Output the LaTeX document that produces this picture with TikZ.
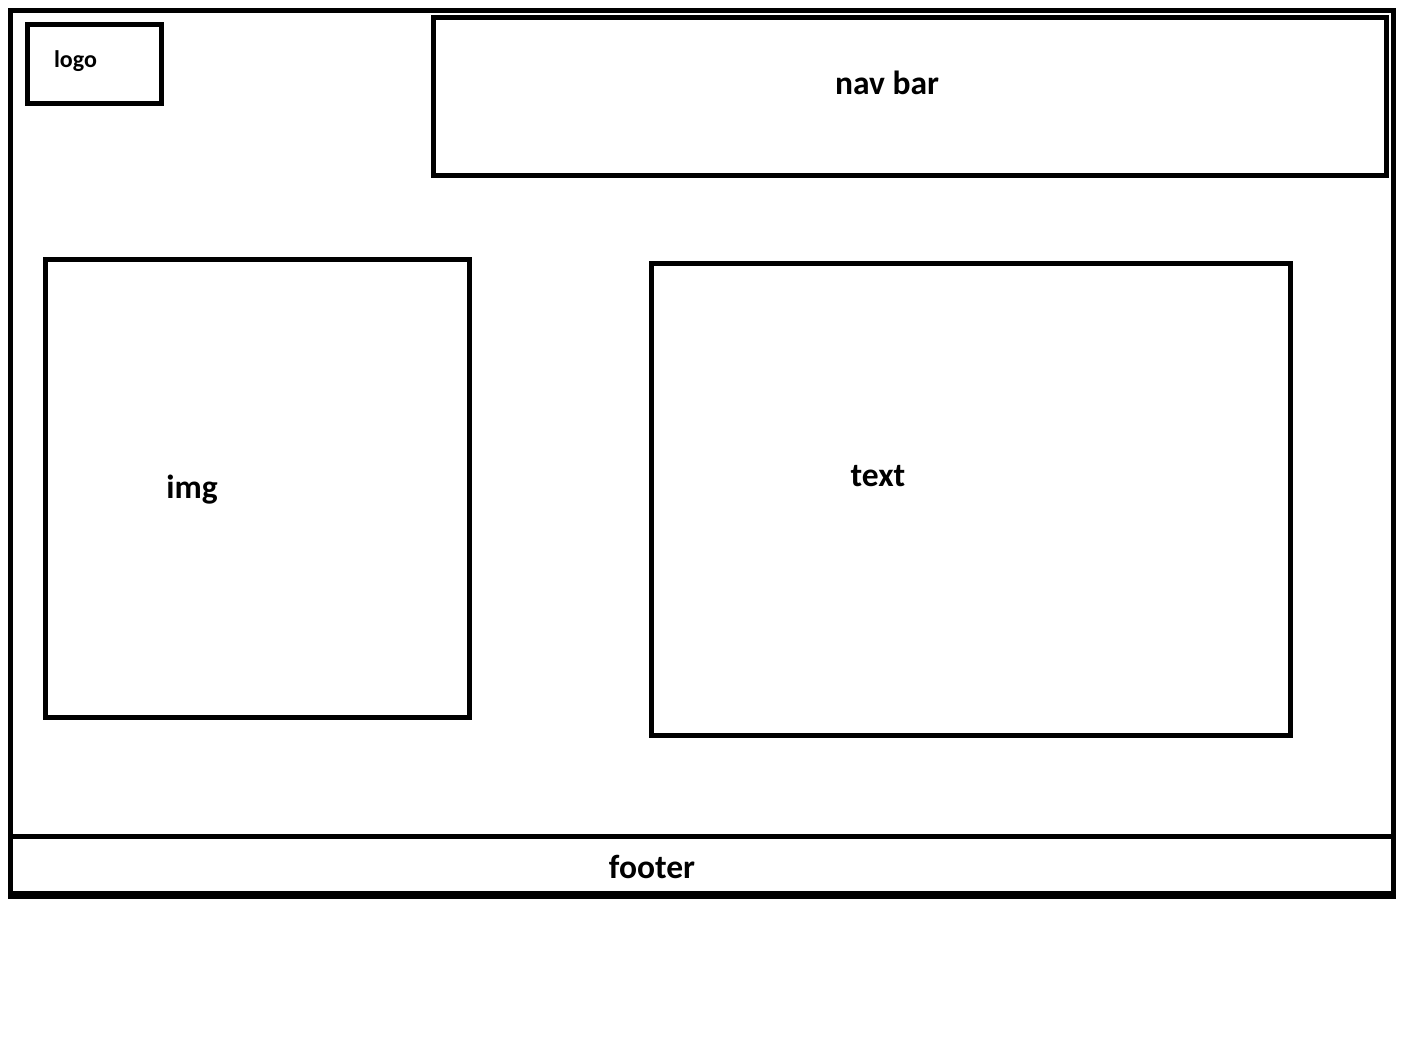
\documentclass[tikz,border=0pt]{standalone}
\usepackage{fontspec}
\setmainfont{Carlito}

\begin{document}
\begin{tikzpicture}[line join=miter,x=1pt,y=-1pt,
    box/.style={line width=5pt},
    big/.style={font=\fontsize{33.5}{40}\selectfont\bfseries,inner sep=0pt,anchor=base},
    small/.style={font=\fontsize{24}{29}\selectfont\bfseries,inner sep=0pt,anchor=base}]
			\useasboundingbox (0,0) rectangle (1404,1037);
			% page frame and footer
			\draw [box] (10.5,10.5) rectangle (1393.5,895);
			\draw [line width=8pt] (8,895)-- (1396,895);
			\draw [box] (10.5,836.5)-- (1393.5,836.5);
			% blocks
			\draw [box] (27.5,24.5) rectangle (161.5,103.5);
			\draw [box] (433.5,17.5) rectangle (1386,175.5);
			\draw [box] (45,259) rectangle (469,717);
			\draw [box] (651.5,263) rectangle (1290,735.5);
			% labels
			\node[small] (logo) at (75.5,67) {logo};
			\node[big] (navbar) at (887,94) {nav bar};
			\node[big] (img) at (192,498) {img};
			\node[big] (text) at (878,486) {text};
			\node[big] (footer) at (652,878) {footer};
		\end{tikzpicture}
\end{document}
